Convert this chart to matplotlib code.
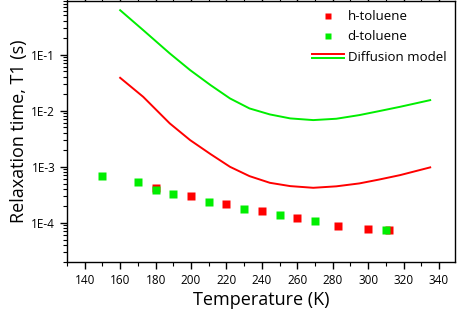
import matplotlib
matplotlib.use("Agg")
import matplotlib.pyplot as plt
from matplotlib.lines import Line2D
from matplotlib.legend_handler import HandlerBase
from matplotlib.ticker import LogLocator, FixedLocator, NullFormatter

plt.rcParams['font.family'] = ['Open Sans', 'DejaVu Sans']

# h-toluene data
h_T = [180, 200, 220, 240, 260, 283, 300, 312]
h_T1 = [4.2e-4, 3.03e-4, 2.18e-4, 1.6e-4, 1.2e-4, 8.6e-5, 7.7e-5, 7.3e-5]
# d-toluene data
d_T = [150, 170, 180, 190, 210, 230, 250, 270, 310]
d_T1 = [6.9e-4, 5.25e-4, 3.88e-4, 3.2e-4, 2.37e-4, 1.78e-4, 1.35e-4, 1.09e-4, 7.5e-5]

# Diffusion model curves (log10 of T1)
model_T = [160, 173, 188, 199.5, 211, 222, 233, 244.5, 256, 269, 282, 295, 306, 318, 335]
green_log = [-0.21, -0.565, -0.98, -1.278, -1.545, -1.783, -1.961, -2.068, -2.139, -2.169,
             -2.145, -2.08, -2.01, -1.932, -1.813]
red_log = [-1.415, -1.754, -2.228, -2.526, -2.775, -3.002, -3.168, -3.287, -3.346, -3.376,
           -3.35, -3.298, -3.23, -3.15, -3.012]

RED = '#ff0000'
GREEN = '#00ee00'

fig = plt.figure(figsize=(4.57, 3.12), dpi=100)
ax = fig.add_axes([67/457, 50/312, 388/457, 261/312])

ax.plot(model_T, [10**v for v in green_log], color=GREEN, lw=1.4)
ax.plot(model_T, [10**v for v in red_log], color=RED, lw=1.4)
ax.plot(h_T, h_T1, 's', color=RED, ms=6, mec='none')
ax.plot(d_T, d_T1, 's', color=GREEN, ms=6, mec='none')

ax.set_yscale('log')
ax.set_xlim(130, 349)
ax.set_ylim(2e-5, 0.9)

ax.set_xticks([140, 160, 180, 200, 220, 240, 260, 280, 300, 320, 340])
ax.xaxis.set_minor_locator(FixedLocator(list(range(130, 350, 20))))
ax.set_yticks([1e-4, 1e-3, 1e-2, 1e-1])
ax.set_yticklabels(['1E-4', '1E-3', '1E-2', '1E-1'])
ax.yaxis.set_minor_locator(LogLocator(base=10, subs=range(2, 10)))
ax.yaxis.set_minor_formatter(NullFormatter())

ax.tick_params(axis='both', which='major', labelsize=8.5, direction='out', length=5, width=1)
ax.tick_params(axis='both', which='minor', direction='out', length=3, width=0.8)
ax.tick_params(axis='x', which='both', top=True)
for s in ax.spines.values():
    s.set_linewidth(1.0)

ax.set_xlabel('Temperature (K)', fontsize=13, labelpad=3)
ax.set_ylabel('Relaxation time, T1 (s)', fontsize=13, labelpad=2)


class DoubleLineHandler(HandlerBase):
    def create_artists(self, legend, orig_handle, xdescent, ydescent, width, height, fontsize, trans):
        yc = height / 2 - ydescent
        l1 = Line2D([-xdescent, width - xdescent], [yc + 1.2, yc + 1.2], color=RED, lw=1.4, transform=trans)
        l2 = Line2D([-xdescent, width - xdescent], [yc - 1.2, yc - 1.2], color=GREEN, lw=1.4, transform=trans)
        return [l1, l2]


h_handle = Line2D([], [], ls='none', marker='s', color=RED, ms=4.5, mec='none')
d_handle = Line2D([], [], ls='none', marker='s', color=GREEN, ms=4.5, mec='none')
m_handle = object()
ax.legend([h_handle, d_handle, m_handle], ['h-toluene', 'd-toluene', 'Diffusion model'],
          handler_map={m_handle: DoubleLineHandler()},
          loc='upper right', bbox_to_anchor=(0.998, 0.995), frameon=False, fontsize=9.5,
          handlelength=2.4, handletextpad=0.3, labelspacing=0.55, borderaxespad=0.2)

fig.savefig('out.png', dpi=100)
